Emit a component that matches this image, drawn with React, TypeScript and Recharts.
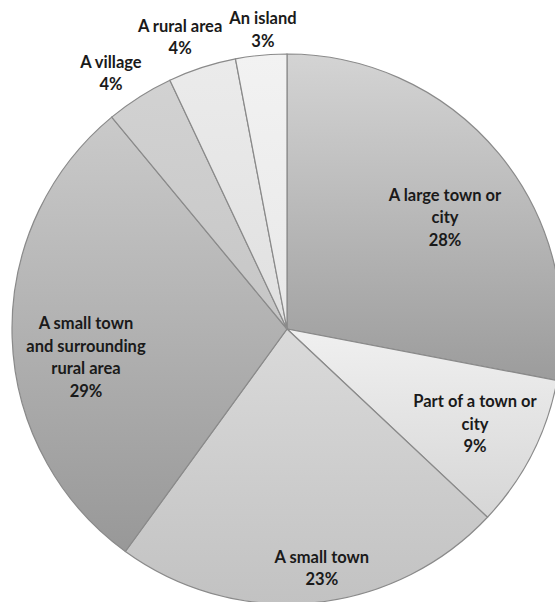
import { Cell, Pie, PieChart } from "recharts";

const categories = [
  "A large town or city",
  "Part of a town or city",
  "A small town",
  "A small town and surrounding rural area",
  "A village",
  "A rural area",
  "An island",
];
const shares = [28, 9, 23, 29, 4, 4, 3];
// how each label is broken into lines in the original
const labelLines = [
  ["A large town or", "city"],
  ["Part of a town or", "city"],
  ["A small town"],
  ["A small town", "and surrounding", "rural area"],
  ["A village"],
  ["A rural area"],
  ["An island"],
];

// label placement: fraction of the radius, and a small turn off the mid angle
const labelRadius = [0.704, 0.766, 0.878, 0.738, 1.13, 1.131, 1.093];
const labelTurn = [-4.3, 0.2, 2.9, 6.1, 2.1, 2.1, -0.8];
const shades = [
  ["#d4d4d4", "#9c9c9c"],
  ["#f0f0f0", "#d6d6d6"],
  ["#dadada", "#c2c2c2"],
  ["#cacaca", "#989898"],
  ["#d2d2d2", "#c6c6c6"],
  ["#ebebeb", "#e0e0e0"],
  ["#f2f2f2", "#e8e8e8"],
];

const data = categories.map((name, i) => ({ name, value: shares[i] }));

const RADIAN = Math.PI / 180;
const LINE_H = 22.5;

const renderLabel = (props: any) => {
  const { cx, cy, midAngle, outerRadius, index, value } = props;
  const r = outerRadius * labelRadius[index];
  const a = (midAngle + labelTurn[index]) * RADIAN;
  const x = cx + r * Math.cos(-a);
  const y = cy + r * Math.sin(-a);
  const lines = [...labelLines[index], `${value}%`];
  const top = y - ((lines.length - 1) * LINE_H) / 2;
  return (
    <text
      x={x}
      y={top}
      textAnchor="middle"
      dominantBaseline="central"
      fill="#1a1a1a"
      fontFamily="Lato, 'Open Sans', sans-serif"
      fontWeight={700}
      fontSize={16.5}
    >
      {lines.map((l, i) => (
        <tspan key={i} x={x} y={top + i * LINE_H}>
          {l}
        </tspan>
      ))}
    </text>
  );
};

export default function App() {
  return (
    <div
      style={{
        position: "fixed",
        left: 0,
        top: 0,
        width: 555,
        height: 602,
        overflow: "hidden",
        background: "#fff",
      }}
    >
      <PieChart width={570} height={610} margin={{ top: 0, right: 0, bottom: 0, left: 0 }}>
        <defs>
          {shades.map(([a, b], i) => (
            <linearGradient key={i} id={`slice${i}`} x1="0" y1="0" x2="0" y2="1">
              <stop offset="0%" stopColor={a} />
              <stop offset="100%" stopColor={b} />
            </linearGradient>
          ))}
        </defs>
        <Pie
          data={data}
          dataKey="value"
          nameKey="name"
          cx={287}
          cy={329}
          outerRadius={275}
          startAngle={90}
          endAngle={-270}
          stroke="#8a8a8a"
          strokeWidth={1.2}
          label={renderLabel}
          labelLine={false}
          isAnimationActive={false}
        >
          {data.map((_, i) => (
            <Cell key={i} fill={`url(#slice${i})`} />
          ))}
        </Pie>
      </PieChart>
    </div>
  );
}
